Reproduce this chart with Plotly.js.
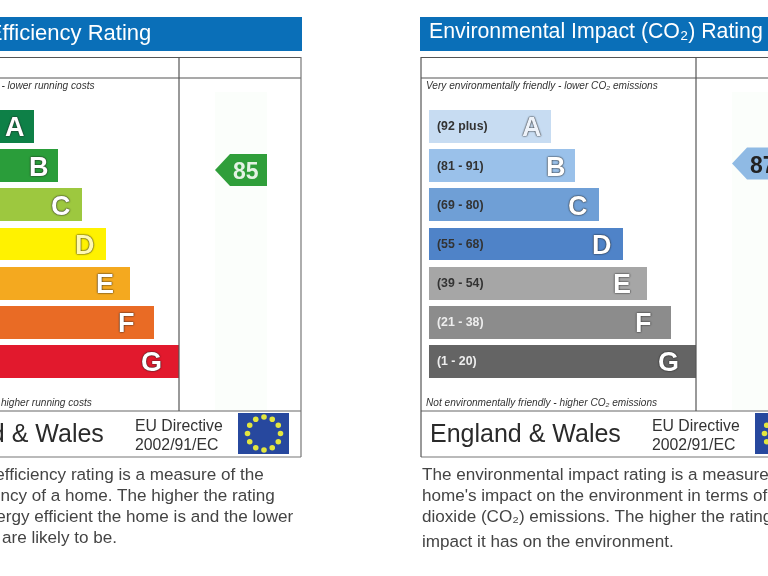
<!DOCTYPE html>
<html>
<head>
<meta charset="utf-8">
<script src="https://cdn.plot.ly/plotly-3.0.1.min.js"></script>
<style>html,body{margin:0;padding:0;background:#fff;overflow:hidden}#chart{width:768px;height:576px;filter:blur(0.4px)}</style>
</head>
<body>
<div id="chart"></div>
<script>
// ---- chart values ----
const bandLetters = ['A','B','C','D','E','F','G'];
const bandRanges = ['(92 plus)','(81 - 91)','(69 - 80)','(55 - 68)','(39 - 54)','(21 - 38)','(1 - 20)'];
const bandLengths = [122,146,170,194,218,242,267];
const energyColors = ['#0e8047','#2a9d3a','#9dc83f','#fff200','#f4a91f','#e96b25','#e2192d'];
const co2Colors = ['#c7dcf2','#9ac1ea','#6f9fd6','#4f83c8','#a6a6a6','#8c8c8c','#646464'];
const energyRating = [85];
const co2Rating = [87];
const energyTitle = 'Energy Efficiency Rating';
const co2Title = 'Environmental Impact (CO₂) Rating';
const energyTop = 'Very energy efficient - lower running costs';
const energyBottom = 'Not energy efficient - higher running costs';
const co2Top = 'Very environmentally friendly - lower CO₂ emissions';
const co2Bottom = 'Not environmentally friendly - higher CO₂ emissions';
const energyLines = ['The energy efficiency rating is a measure of the','overall efficiency of a home. The higher the rating','the more energy efficient the home is and the lower','the fuel bills are likely to be.'];
const co2Lines = ['The environmental impact rating is a measure of a',"home's impact on the environment in terms of carbon",'dioxide (CO₂) emissions. The higher the rating the less','impact it has on the environment.'];

// ---- layout helpers (pixel positions of the page furniture) ----
const W = 768, H = 576, DX = 517;
const FONT = '"Liberation Sans", Arial, sans-serif';
const px = x => x / W, py = y => 1 - y / H;
const letterInset = [8,8,10,10,15,18,16];
const shapes = [], annotations = [];
function rect(x0,y0,x1,y1,fill,line){
  shapes.push({type:'rect',xref:'paper',yref:'paper',x0:px(x0),x1:px(x1),y0:py(y1),y1:py(y0),
    fillcolor:fill,line:line?{color:line,width:1}:{width:0},layer:'below'});
}
function seg(x0,y0,x1,y1,c){
  shapes.push({type:'line',xref:'paper',yref:'paper',x0:px(x0),x1:px(x1),y0:py(y0),y1:py(y1),
    line:{color:c||'#5f5f5f',width:1.2},layer:'above'});
}
function note(text,x,y,size,o){
  o=o||{};
  annotations.push({text,xref:'paper',yref:'paper',x:px(x),y:py(y),xanchor:o.anchor||'left',yanchor:'middle',
    showarrow:false,align:'left',borderpad:0,
    font:{family:o.family||FONT,size,color:o.color||'#333',style:o.style||'normal',weight:o.weight||400}});
}

[0,DX].forEach(d=>{
  rect(d-97,17,d+302,51,'#0a6fb8');               // header strip
  rect(d+215,92,d+267,410,'#fbfefb');             // pale band behind the pointer
  seg(d-96,57.5,d+301,57.5,'#555');
  seg(d-96,78,d+301,78,'#555');
  seg(d-96,411,d+301,411,'#666');
  seg(d-96,457,d+301,457,'#777');
  seg(d-96,57,d-96,457,'#555');
  seg(d+301,57,d+301,457,'#777');
  seg(d+179,57,d+179,411,'#555');
  rect(d+238,413,d+289,454,'#27489e');            // EU flag
  for(let k=0;k<12;k++){
    const a=k*Math.PI/6, cx=d+264+16.5*Math.cos(a), cy=433.5+16.5*Math.sin(a);
    shapes.push({type:'circle',xref:'paper',yref:'paper',x0:px(cx-2.8),x1:px(cx+2.8),y0:py(cy+2.8),y1:py(cy-2.8),
      fillcolor:'#e3e63f',line:{width:0},layer:'above'});
  }
  note('England & Wales',d-88,433,25,{color:'#2a2a2a'});
  note('EU Directive',d+134,425,15.8,{color:'#333'});
  note('2002/91/EC',d+134,444.5,15.8,{color:'#333'});
});

// Rating pointers: anchored on the rating scale, sized in pixels
function pointer(axisX,val,color,textColor,labelX){
  shapes.push({type:'path',xref:axisX,yref:'y2',xsizemode:'pixel',ysizemode:'pixel',
    xanchor:303,yanchor:val,
    path:'M 0 0 L 15 16 L 52 16 L 52 -16 L 15 -16 Z',fillcolor:color,line:{width:0},layer:'below'});
  annotations.push({text:String(val),xref:axisX,yref:'y2',x:labelX,y:val,xanchor:'center',yanchor:'middle',
    yshift:-1,showarrow:false,borderpad:0,font:{family:FONT,size:23,weight:700,color:textColor}});
}
pointer('x',energyRating[0],'#2f9e3a','#e4f2e4',333.5);
pointer('x2',co2Rating[0],'#8fbae4','#222',334);

// Headers and captions
note(energyTitle,152,32,22,{anchor:'right',color:'#fff'});
note(co2Title,428,31,21.3,{color:'#fff'});
note(energyTop,96,85.5,10.1,{anchor:'right',style:'italic',color:'#333'});
note(energyBottom,93,402,10.1,{anchor:'right',style:'italic',color:'#333'});
note(co2Top,425,85.5,10.1,{style:'italic',color:'#333'});
note(co2Bottom,425,402,10.1,{style:'italic',color:'#333'});
const energyEnds=[265,276,295,118];
energyLines.forEach((t,i)=>note(t,energyEnds[i],[474.5,495.5,516.5,537.5][i],17.1,{anchor:'right',color:'#444'}));
co2Lines.forEach((t,i)=>note(t,421,[474.5,495.5,516.5,541][i],17.1,{color:'#444'}));

// Letters and band ranges on the bars, positioned through the data axes
function barLabels(xaxis,showRanges){
  bandLetters.forEach((l,i)=>{
    annotations.push({text:l,xref:xaxis,yref:'y',x:bandLengths[i],y:l,xanchor:'right',yanchor:'middle',
      xshift:-letterInset[i],yshift:-1,showarrow:false,borderpad:0,
      font:{family:FONT,size:27,weight:700,color:l==='D'&&!showRanges?'#fff9b0':(l==='A'&&showRanges?'#eef3fa':'#fff'),
        shadow:'0 0 2px #222, 0 0 1px #222'}});
    if(showRanges){
      annotations.push({text:bandRanges[i],xref:xaxis,yref:'y',x:0,y:l,xanchor:'left',yanchor:'middle',
        xshift:7,showarrow:false,borderpad:0,
        font:{family:FONT,size:12.3,weight:700,color:i>=5?'#eee':'#333'}});
    }
  });
}
barLabels('x',false);
barLabels('x2',true);

const base = {type:'bar',orientation:'h',y:bandLetters,x:bandLengths,width:0.84,hoverinfo:'skip',showlegend:false};
const traces = [
  Object.assign({},base,{xaxis:'x',yaxis:'y',marker:{color:energyColors,line:{width:0}}}),
  Object.assign({},base,{xaxis:'x2',yaxis:'y',marker:{color:co2Colors,line:{width:0}}})
];

const hidden = {visible:false,fixedrange:true,showgrid:false,zeroline:false};
const layout = {
  width:W,height:H,margin:{l:0,r:0,t:0,b:0},paper_bgcolor:'#fff',plot_bgcolor:'rgba(0,0,0,0)',
  showlegend:false,bargap:0,
  xaxis:Object.assign({},hidden,{range:[88,856]}),
  xaxis2:Object.assign({},hidden,{range:[-429,339],overlaying:'x'}),
  yaxis:Object.assign({},hidden,{type:'category',categoryorder:'array',categoryarray:bandLetters,range:[11.48,-3.23]}),
  yaxis2:Object.assign({},hidden,{range:[-39.9,137.3],overlaying:'y'}),
  shapes,annotations
};
Plotly.newPlot('chart',traces,layout,{displayModeBar:false,staticPlot:true});
</script>
</body>
</html>
